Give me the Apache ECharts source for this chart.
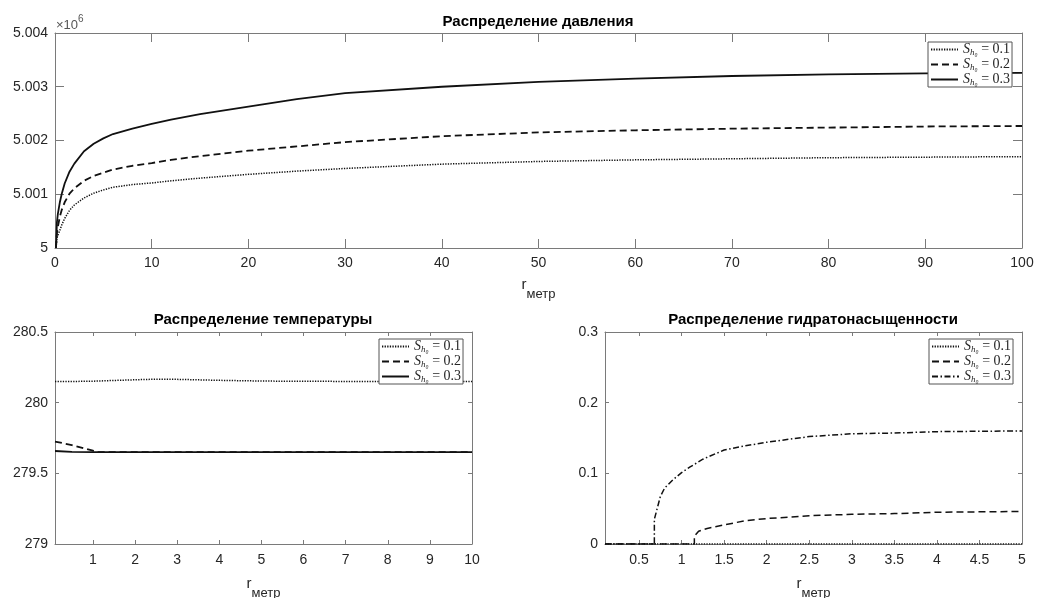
<!DOCTYPE html>
<html>
<head>
<meta charset="utf-8">
<script src="https://cdn.jsdelivr.net/npm/echarts@6/dist/echarts.min.js"></script>
<style>
html,body{margin:0;padding:0;background:#fff;}
#chart{width:1037px;height:598px;}
</style>
</head>
<body>
<div id="chart"></div>
<script>
// ---------- DATA ----------
// Pressure (units of 10^6 Pa)
const pressureR = [0.1, 0.2, 0.3, 0.5, 0.7, 1, 1.5, 2, 3, 4, 5, 6, 8, 10, 12, 15, 20, 25, 30, 40, 50, 60, 70, 80, 90, 100];
const pressureSh01 = [5.00000, 5.00018, 5.00024, 5.00033, 5.00043, 5.00055, 5.00070, 5.00080, 5.00093, 5.00102, 5.00108, 5.00113, 5.00118, 5.00121, 5.00125, 5.00130, 5.00137, 5.00143, 5.00148, 5.00156, 5.00161, 5.00164, 5.00166, 5.00168, 5.00169, 5.00170];
const pressureSh02 = [5.00000, 5.00028, 5.00040, 5.00058, 5.00071, 5.00085, 5.00101, 5.00111, 5.00125, 5.00134, 5.00140, 5.00146, 5.00153, 5.00158, 5.00164, 5.00171, 5.00181, 5.00189, 5.00197, 5.00208, 5.00215, 5.00219, 5.00222, 5.00224, 5.00226, 5.00227];
const pressureSh03 = [5.00000, 5.00048, 5.00064, 5.00085, 5.00101, 5.00120, 5.00142, 5.00157, 5.00180, 5.00194, 5.00204, 5.00212, 5.00222, 5.00231, 5.00239, 5.00249, 5.00263, 5.00277, 5.00288, 5.00300, 5.00309, 5.00315, 5.00320, 5.00323, 5.00325, 5.00326];

// Temperature
const tempR = [0.1, 0.5, 1, 1.1, 1.5, 2, 2.5, 3, 4, 5, 6, 8, 10];
const tempSh01 = [280.150, 280.150, 280.152, 280.153, 280.157, 280.162, 280.166, 280.165, 280.158, 280.153, 280.151, 280.150, 280.150];
const tempSh02 = [279.725, 279.700, 279.660, 279.650, 279.650, 279.650, 279.650, 279.650, 279.650, 279.650, 279.650, 279.650, 279.650];
const tempSh03 = [279.658, 279.652, 279.650, 279.650, 279.650, 279.650, 279.650, 279.650, 279.650, 279.650, 279.650, 279.650, 279.650];

// Hydrate saturation
const hydR01 = [0.1, 5];
const hydSh01 = [0, 0];
const hydR02 = [0.1, 1.15, 1.15, 1.2, 1.3, 1.5, 1.75, 2, 2.5, 3, 3.5, 4, 5];
const hydSh02 = [0, 0, 0.011, 0.018, 0.022, 0.027, 0.033, 0.036, 0.040, 0.042, 0.043, 0.045, 0.046];
const hydR03 = [0.1, 0.68, 0.68, 0.75, 0.8, 0.9, 1.0, 1.1, 1.25, 1.5, 1.75, 2, 2.5, 3, 3.5, 4, 5];
const hydSh03 = [0, 0, 0.035, 0.067, 0.079, 0.091, 0.101, 0.109, 0.120, 0.133, 0.139, 0.144, 0.152, 0.156, 0.157, 0.159, 0.160];

// Tick labels
const tempTicks = [1, 2, 3, 4, 5, 6, 7, 8, 9, 10];
const hydTicks = [0.5, 1, 1.5, 2, 2.5, 3, 3.5, 4, 4.5, 5];
const legendLabels = ['0.1', '0.2', '0.3'];

const titles = ['Распределение давления', 'Распределение температуры', 'Распределение гидратонасыщенности'];

// ---------- CHART ----------
const chart = echarts.init(document.getElementById('chart'), null, {renderer: 'canvas'});
const zip = (xs, ys) => xs.map((x, i) => [x, ys[i]]);

const FONT = 'Liberation Sans, Arial, Helvetica, sans-serif';
const SERIF = 'Liberation Serif, DejaVu Serif, serif';
const AXC = '#262626';
const BOX = '#7a7a7a';

const grids = [
  {left: 55, top: 33, width: 967, height: 215, outerBoundsMode: 'none', containLabel: false},
  {left: 55, top: 332, width: 417, height: 212, outerBoundsMode: 'none', containLabel: false},
  {left: 605, top: 332, width: 417, height: 212, outerBoundsMode: 'none', containLabel: false}
];

function xAx(gi, min, max, opts, mirror, tickLen) {
  const base = {
    type: 'value', gridIndex: gi, min: min, max: max,
    position: mirror ? 'top' : 'bottom',
    axisLine: {show: true, onZero: false, lineStyle: {color: BOX, width: 1}},
    axisTick: Object.assign({show: true, inside: true, length: tickLen, lineStyle: {color: BOX}}, opts.tick || {}),
    axisLabel: Object.assign({show: !mirror, color: AXC, fontSize: 14, fontFamily: FONT, margin: 8}, opts.label || {}),
    splitLine: {show: false}
  };
  if (opts.interval !== undefined) base.interval = opts.interval;
  if (!mirror && opts.name) {
    base.name = '{r|r}{m|метр}';
    base.nameLocation = 'middle';
    base.nameGap = opts.nameGap;
    base.nameTextStyle = {
      rich: {
        r: {fontSize: 15, fontFamily: FONT, color: AXC, lineHeight: 22, verticalAlign: 'top', padding: [0, 0, 0, 0]},
        m: {fontSize: 13, fontFamily: FONT, color: AXC, lineHeight: 22, padding: [12, 0, 0, 0]}
      }
    };
  }
  return base;
}
function yAx(gi, min, max, interval, fmt, mirror, tickLen) {
  return {
    type: 'value', gridIndex: gi, min: min, max: max, interval: interval,
    position: mirror ? 'right' : 'left',
    axisLine: {show: true, onZero: false, lineStyle: {color: BOX, width: 1}},
    axisTick: {show: true, inside: true, length: tickLen, lineStyle: {color: BOX}},
    axisLabel: {show: !mirror, color: AXC, fontSize: 14, fontFamily: FONT, margin: 7, formatter: fmt},
    splitLine: {show: false}
  };
}

const xAxes = [
  xAx(0, 0, 100, {interval: 10, name: true, nameGap: 29}, false, 9),
  xAx(0, 0, 100, {interval: 10}, true, 9),
  xAx(1, 0.1, 10, {tick: {customValues: tempTicks}, label: {customValues: tempTicks, margin: 9}, name: true, nameGap: 32}, false, 4),
  xAx(1, 0.1, 10, {tick: {customValues: tempTicks}, label: {customValues: tempTicks}}, true, 4),
  xAx(2, 0.1, 5, {tick: {customValues: hydTicks}, label: {customValues: hydTicks, margin: 9}, name: true, nameGap: 32}, false, 4),
  xAx(2, 0.1, 5, {tick: {customValues: hydTicks}, label: {customValues: hydTicks}}, true, 4)
];
const fmtP = v => String(parseFloat(v.toFixed(3)));
const fmtT = v => String(parseFloat(v.toFixed(1)));
const fmtH = v => String(parseFloat(v.toFixed(1)));
const yAxes = [
  yAx(0, 5, 5.004, 0.001, fmtP, false, 9),
  yAx(0, 5, 5.004, 0.001, fmtP, true, 9),
  yAx(1, 279, 280.5, 0.5, fmtT, false, 4),
  yAx(1, 279, 280.5, 0.5, fmtT, true, 4),
  yAx(2, 0, 0.3, 0.1, fmtH, false, 4),
  yAx(2, 0, 0.3, 0.1, fmtH, true, 4)
];

const DOT = [1.3, 1.3];
const DASH = [7, 4];
const DASHDOT = [6, 2.5, 1.5, 2.5];
function ser(name, xi, yi, data, dash, w) {
  return {
    name: name, type: 'line', xAxisIndex: xi, yAxisIndex: yi,
    data: data, showSymbol: false, symbol: 'none', animation: false,
    smooth: false,
    lineStyle: {color: '#111', width: w, type: dash, join: 'round'},
    itemStyle: {color: '#111'}
  };
}
const series = [
  ser('p1', 0, 0, zip(pressureR, pressureSh01), DOT, 1.5),
  ser('p2', 0, 0, zip(pressureR, pressureSh02), DASH, 1.8),
  ser('p3', 0, 0, zip(pressureR, pressureSh03), 'solid', 1.8),
  ser('t1', 2, 2, zip(tempR, tempSh01), DOT, 1.5),
  ser('t2', 2, 2, zip(tempR, tempSh02), DASH, 1.8),
  ser('t3', 2, 2, zip(tempR, tempSh03), 'solid', 1.8),
  ser('h1', 4, 4, zip(hydR01, hydSh01), DOT, 1.5),
  ser('h2', 4, 4, zip(hydR02, hydSh02), DASH, 1.5),
  ser('h3', 4, 4, zip(hydR03, hydSh03), DASHDOT, 1.5)
];

const legRich = {
  s: {fontFamily: SERIF, fontStyle: 'italic', fontSize: 14, color: AXC, lineHeight: 16},
  h: {fontFamily: SERIF, fontStyle: 'italic', fontSize: 9, color: AXC, lineHeight: 16, padding: [6, 0, 0, 0]},
  v: {fontFamily: SERIF, fontSize: 14, color: AXC, lineHeight: 16}
};
function legendFor(prefix, left, top) {
  return {
    data: [prefix + '1', prefix + '2', prefix + '3'],
    orient: 'vertical', left: left, top: top,
    itemGap: 0, itemWidth: 27, itemHeight: 16, itemTextGap: 2,
    padding: [0, 2, 0, 2],
    borderColor: '#555', borderWidth: 1, backgroundColor: '#fff',
    selectedMode: false,
    itemStyle: {opacity: 0, borderWidth: 0},
    lineStyle: {inherit: true},
    formatter: name => '{s|S}{h|h₀}{v| = ' + legendLabels[+name.slice(1) - 1] + '}',
    textStyle: {rich: legRich}
  };
}

const titleStyle = {fontSize: 15, fontWeight: 'bold', fontFamily: FONT, color: '#000'};

const option = {
  backgroundColor: '#fff',
  animation: false,
  title: [
    {text: titles[0], left: 538, top: 14, textAlign: 'center', textStyle: titleStyle, padding: 0},
    {text: titles[1], left: 263, top: 312, textAlign: 'center', textStyle: titleStyle, padding: 0},
    {text: titles[2], left: 813, top: 312, textAlign: 'center', textStyle: titleStyle, padding: 0}
  ],
  grid: grids,
  xAxis: xAxes,
  yAxis: yAxes,
  legend: [legendFor('p', 928, 42), legendFor('t', 379, 339), legendFor('h', 929, 339)],
  series: series,
  graphic: [
    {
      type: 'text', left: 56, top: 13,
      style: {
        text: '{a|×10}{b|6}',
        rich: {
          a: {fontSize: 13, fontFamily: FONT, fill: '#555', lineHeight: 20, padding: [6, 0, 0, 0]},
          b: {fontSize: 10, fontFamily: FONT, fill: '#555', lineHeight: 20, padding: [0, 0, 6, 0]}
        }
      }
    }
  ]
};
chart.setOption(option);
</script>
</body>
</html>
